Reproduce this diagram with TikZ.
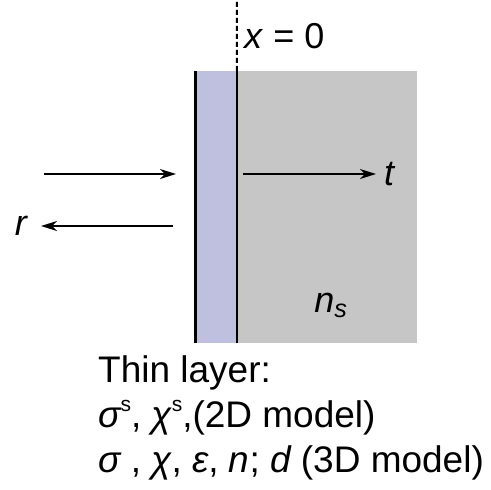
\documentclass[tikz,border=0pt]{standalone}
\usepackage{fontspec}
\setmainfont{Liberation Sans}
\usetikzlibrary{arrows.meta,positioning}
\definecolor{FilmBlue}{RGB}{191,191,224}
\definecolor{BulkGray}{RGB}{198,198,198}
\newcommand{\supS}{\raisebox{0.42em}{\fontsize{21}{21}\selectfont s}}

\begin{document}
\begin{tikzpicture}[x=1pt,y=-1pt,
  slab/.style={inner sep=0pt,minimum height=272pt},
  wall/.style={line width=2.6pt},
  ray/.style={line width=1.8pt,-{Stealth[length=16pt,width=10pt,inset=5pt]}},
  lbl/.style={inner sep=0pt,font=\fontsize{36}{40}\selectfont},
  captext/.style={inner sep=0pt,anchor=base west,font=\fontsize{37}{45}\selectfont}
]
  \useasboundingbox (0,0) rectangle (491,490);
  \node[slab,fill=BulkGray,minimum width=180pt] (bulk) at (327,207) {};
  \node[slab,fill=FilmBlue,minimum width=41pt,left=0pt of bulk] (film) {};
  \draw[wall] (film.north west) -- (film.south west);
  \draw[wall] (film.north east) -- (film.south east);
  \coordinate (top) at (237,0);
  \draw[line width=2pt,dash pattern=on 5pt off 3pt] (film.north east) -- (top);
  \node[lbl,anchor=west] (xzero) at (244,36) {\itshape x\/\upshape{} = 0};

  % incoming and reflected waves
  \coordinate (inA) at (44,174);
  \coordinate (inB) at (176,174);
  \draw[ray] (inA) -- (inB);
  \coordinate (rfA) at (173,226);
  \coordinate (rfB) at (41,226);
  \draw[ray] (rfA) -- (rfB);
  \node[lbl,left=14pt of rfB] (rlab) {\itshape r};

  % transmitted wave
  \coordinate (trA) at (243,174);
  \coordinate (trB) at (376,174);
  \draw[ray] (trA) -- (trB);
  \node[lbl,right=8pt of trB] (tlab) {\itshape t};
  \node[lbl] (nlab) at (331,305) {\itshape n\textsubscript{s}};

  \node[captext] (cap1) at (98,382) {Thin layer:};
  \node[captext] (cap2) at (98,427) {\itshape σ\upshape\supS, \itshape χ\upshape\supS,(2D model)};
  \node[captext] (cap3) at (98,472) {\itshape σ\upshape{} , \itshape χ\upshape, \itshape ε\upshape, \itshape n\upshape; \itshape d\upshape{} (3D model)};
\end{tikzpicture}
\end{document}
